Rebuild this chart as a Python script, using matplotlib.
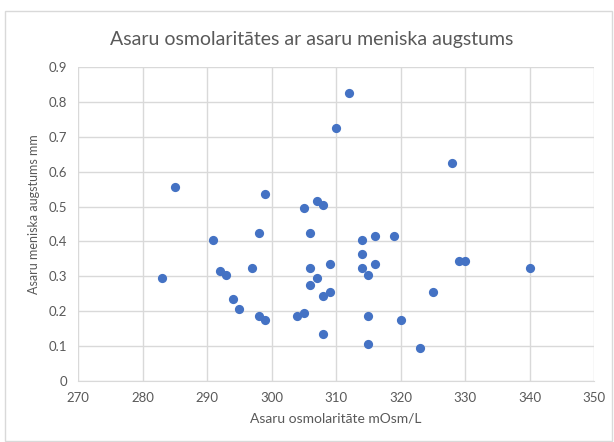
import matplotlib.pyplot as plt
from matplotlib.patches import Rectangle

osmolarity = [283, 285, 291, 292, 293, 294, 295, 297, 298, 298, 299, 299,
              304, 305, 305, 306, 306, 306, 307, 307, 308, 308, 308, 309,
              309, 310, 312, 314, 314, 314, 315, 315, 315, 316, 316, 319,
              320, 323, 325, 328, 329, 330, 340]
meniscus = [0.295, 0.555, 0.405, 0.315, 0.305, 0.235, 0.205, 0.325, 0.425,
            0.185, 0.535, 0.175, 0.185, 0.195, 0.495, 0.425, 0.325, 0.275,
            0.515, 0.295, 0.505, 0.245, 0.135, 0.335, 0.255, 0.725, 0.825,
            0.405, 0.365, 0.325, 0.305, 0.185, 0.105, 0.415, 0.335, 0.415,
            0.175, 0.095, 0.255, 0.625, 0.345, 0.345, 0.325]

xticks = list(range(270, 351, 10))
yticks = [i / 10 for i in range(10)]

plt.rcParams["font.family"] = ["Lato", "DejaVu Sans"]

fig = plt.figure(figsize=(6.14, 4.42), dpi=100)
fig.patches.append(Rectangle((5 / 614, 0.003), 1 - 5 / 614 - 0.003, 1 - 11 / 442 - 0.003,
                             transform=fig.transFigure, fill=False,
                             edgecolor="#d9d9d9", linewidth=1))
ax = fig.add_axes([78 / 614, 1 - 381 / 442, 516 / 614, 314 / 442])

ax.scatter(osmolarity, meniscus, s=44, color="#4472c4", zorder=3, linewidths=0)

ax.set_xlim(270, 350)
ax.set_ylim(0, 0.9)
ax.set_xticks(xticks)
ax.set_yticks(yticks)
ax.set_yticklabels([f"{v:g}" for v in yticks])
ax.grid(True, color="#d9d9d9", linewidth=1)
ax.set_axisbelow(True)
for side in ["top", "right", "left"]:
    ax.spines[side].set_visible(False)
ax.spines["bottom"].set_color("#d9d9d9")
ax.tick_params(length=0, labelsize=9.5, colors="#595959", pad=8)

ax.set_xlabel("Asaru osmolaritāte mOsm/L", fontsize=10, color="#595959", labelpad=6)
ax.set_ylabel("Asaru meniska augstums mm", fontsize=9, color="#595959", labelpad=4)
ax.yaxis.set_label_coords(-38 / 516, 0.5 + 10 / 314)
fig.text(312 / 614, 1 - 39 / 442, "Asaru osmolaritātes ar asaru meniska augstums",
         ha="center", va="center", fontsize=14, color="#595959")

fig.savefig("out.png", dpi=100)
